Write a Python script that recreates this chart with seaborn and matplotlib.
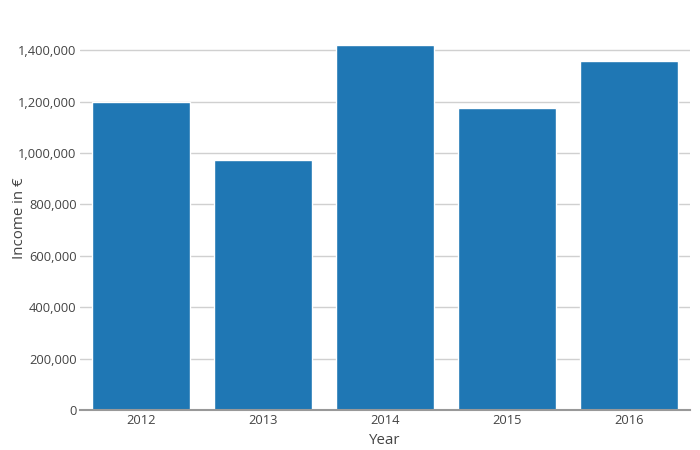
import matplotlib
matplotlib.use('Agg')
import matplotlib.pyplot as plt
import matplotlib.ticker as mticker
import seaborn as sns
import pandas as pd

# 数据
years = ['2012', '2013', '2014', '2015', '2016']
income = [1200000, 975000, 1420000, 1175000, 1360000]

df = pd.DataFrame({'Year': years, 'Income': income})

sns.set_style('white')
plt.rcParams['font.family'] = ['Open Sans', 'DejaVu Sans']

fig = plt.figure(figsize=(7, 4.5), dpi=100)
ax = fig.add_axes([80 / 700, 40 / 450, 610 / 700, 384 / 450])

sns.barplot(data=df, x='Year', y='Income', color='#1f77b4', saturation=1,
            width=0.8, ax=ax, zorder=3)

ax.set_xlim(-0.5, 4.5)
ax.set_ylim(0, 1494737)
ax.yaxis.set_major_locator(mticker.MultipleLocator(200000))
ax.yaxis.set_major_formatter(mticker.FuncFormatter(lambda v, p: f'{int(v):,}'))
ax.grid(True, axis='y', color='#d0d0d0', linewidth=1, zorder=0)

for s in ['top', 'right', 'left']:
    ax.spines[s].set_visible(False)
ax.spines['bottom'].set_color('#999999')
ax.spines['bottom'].set_linewidth(1.5)
ax.spines['bottom'].set_zorder(4)

ax.tick_params(axis='both', length=0, labelsize=9.3, labelcolor='#444444')
ax.tick_params(axis='y', pad=2.5)
ax.tick_params(axis='x', pad=3)

# 轴标题
ax.set_xlabel('Year', fontsize=10.8, color='#444444', va='center')
ax.set_ylabel('Income in €', fontsize=10.8, color='#444444', va='center')
ax.xaxis.set_label_coords(0.5, -0.08)
ax.yaxis.set_label_coords(-0.099, 0.5)

fig.savefig('out.png', dpi=100)
